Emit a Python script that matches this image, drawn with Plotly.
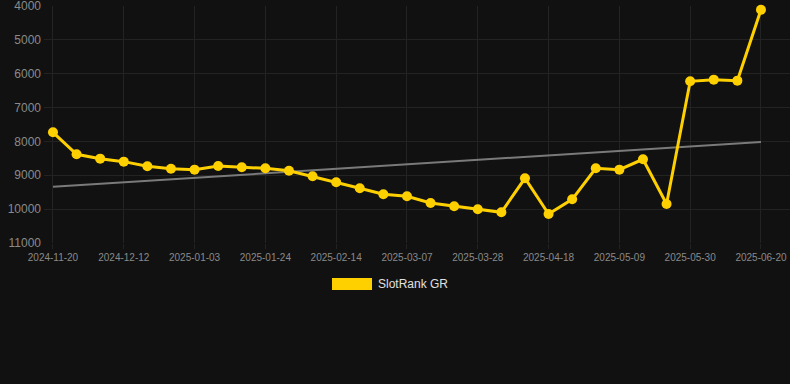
import numpy as np
import plotly.graph_objects as go

dates = [
    "2024-11-20", "2024-11-27", "2024-12-05", "2024-12-12", "2024-12-19", "2024-12-26",
    "2025-01-03", "2025-01-10", "2025-01-17", "2025-01-24", "2025-01-31", "2025-02-07",
    "2025-02-14", "2025-02-21", "2025-02-28", "2025-03-07", "2025-03-14", "2025-03-21",
    "2025-03-28", "2025-04-04", "2025-04-11", "2025-04-18", "2025-04-25", "2025-05-02",
    "2025-05-09", "2025-05-16", "2025-05-23", "2025-05-30", "2025-06-06", "2025-06-13",
    "2025-06-20",
]
rank = [
    7731, 8381, 8509, 8597, 8735, 8805, 8834, 8725, 8764, 8794, 8864, 9030,
    9207, 9384, 9561, 9621, 9818, 9916, 10005, 10093, 9089, 10143, 9710, 8794,
    8834, 8528, 9848, 6224, 6175, 6205, 4108,
]
series_name = "SlotRank GR"
y_ticks = [4000, 5000, 6000, 7000, 8000, 9000, 10000, 11000]
y_tick_labels = [str(v) for v in y_ticks]

idx = np.arange(len(rank))
slope, intercept = np.polyfit(idx, rank, 1)
trend = slope * idx + intercept

BG = "#111111"
GRID = "#232323"
YELLOW = "#FFD000"

fig = go.Figure()
fig.add_trace(go.Scatter(
    x=dates, y=trend, mode="lines",
    line=dict(color="#7a7a7a", width=2),
    showlegend=False, hoverinfo="skip",
))
fig.add_trace(go.Scatter(
    x=dates, y=rank, mode="lines+markers", name=series_name,
    line=dict(color=YELLOW, width=3),
    marker=dict(color=YELLOW, size=10),
    showlegend=False, cliponaxis=False,
))

fig.update_layout(
    width=790, height=384,
    paper_bgcolor=BG, plot_bgcolor=BG,
    margin=dict(l=44, r=0, t=6, b=141),
    font=dict(family="Liberation Sans, Arial, sans-serif", color="#8a8a8a"),
    showlegend=False,
)
fig.update_xaxes(
    type="category",
    range=[-0.38, 31.23],
    tickvals=dates[::3], ticktext=dates[::3],
    tickangle=0,
    tickfont=dict(size=10, color="#8a8a8a"),
    showgrid=True, gridcolor=GRID, gridwidth=1,
    ticks="outside", ticklen=5, tickcolor=GRID,
    zeroline=False, showline=False,
    ticklabeloverflow="allow",
)
fig.update_yaxes(
    range=[11000.5, 3999.5],
    tickvals=y_ticks, ticktext=y_tick_labels,
    tickfont=dict(size=12, color="#8a8a8a"),
    showgrid=True, gridcolor=GRID, gridwidth=1,
    zeroline=False, showline=False,
    ticklabelstandoff=2,
    ticklabeloverflow="allow",
)

# legend swatch and label
fig.add_shape(type="rect", xref="paper", yref="paper",
              x0=(332 - 44) / 746, x1=(372 - 44) / 746,
              y0=(243 - 290) / 237, y1=(243 - 278) / 237,
              fillcolor=YELLOW, line=dict(width=0), layer="above")
fig.add_annotation(text=series_name, xref="paper", yref="paper",
                   x=(376 - 44) / 746, y=(243 - 284) / 237,
                   xanchor="left", yanchor="middle", showarrow=False,
                   font=dict(size=12, color="#e0e0e0"))

fig.write_html(
    "out.html",
    config={"displayModeBar": False},
    post_script="document.body.style.margin='0';document.body.style.background='#111111';",
)
